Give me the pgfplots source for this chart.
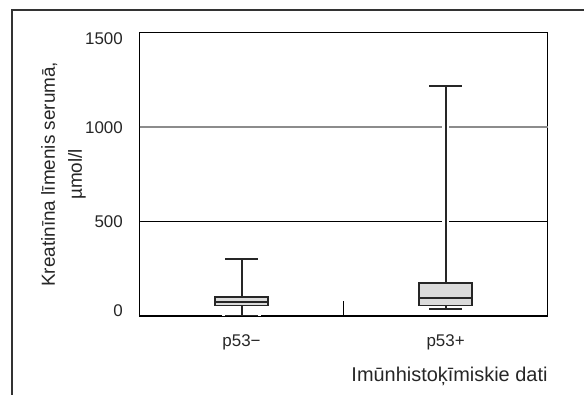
\documentclass[border=0pt]{standalone}
\usepackage{fontspec}
\setmainfont{Liberation Sans}
\usepackage{pgfplots}
\pgfplotsset{compat=1.18}
\begin{document}
\begin{tikzpicture}
\useasboundingbox (0bp,0bp) rectangle (584bp,395bp);
\draw[line width=1.1bp, black!80] (12bp,-2bp) -- (12bp,385bp) -- (586bp,385bp);
\begin{axis}[
  at={(139.5bp,79bp)}, anchor=south west,
  scale only axis, width=408.2bp, height=283.4bp,
  xmin=0, xmax=2, ymin=0, ymax=1500,
  axis line style={black, line width=1bp},
  /pgf/number format/assume math mode=true,
  /pgf/number format/1000 sep={},
  xtick={0.5,1.5}, xticklabels={p53−,p53+},
  ytick={0,500,1500},
  yticklabels={\raisebox{5.5bp}{0},500,\raisebox{-6bp}{1500}},
  extra y ticks={1000}, extra y tick labels={1000},
  extra y tick style={grid=major, major grid style={draw=black!45, line width=2.2bp}},
  ymajorgrids, major grid style={black, line width=0.9bp},
  extra x ticks={1}, extra x tick labels={},
  extra x tick style={major tick length=15bp, tick align=inside, major tick style={black, line width=1.1bp}},
  major tick length=0.01pt,
  tick pos=left,
  ticklabel style={font=\fontsize{17}{20}\selectfont, text=black!85},
  xticklabel style={anchor=base, yshift=-30bp},
  yticklabel style={anchor=base east, inner sep=0pt, xshift=-16.5bp, yshift=-6.1bp},
  xlabel={Imūnhistoķīmiskie dati},
  every axis x label/.style={at={(rel axis cs:1,0)}, anchor=base east, yshift=-65bp, inner sep=0pt, font=\fontsize{20}{24}\selectfont, text=black!85},
  ylabel={Kreatinīna līmenis serumā,\\[6bp]µmol/l},
  every axis y label/.style={at={(rel axis cs:0,0.5)}, xshift=-76bp, rotate=90, anchor=center, align=center, font=\fontsize{19}{21}\selectfont, text=black!85},
]
\addplot[black, line width=2.2bp, no markers] coordinates {(0,0) (2,0)};
% white halos
\addplot[white, line width=7bp, line cap=rect, no markers] coordinates {(0.5,0) (0.5,300)};
\addplot[white, line width=7bp, line cap=rect, no markers] coordinates {(0.42,0) (0.58,0)};
\addplot[white, line width=7bp, line cap=rect, no markers] coordinates {(0.42,300) (0.58,300)};
\addplot[white, line width=7bp, line cap=rect, no markers] coordinates {(1.5,37) (1.5,1215)};
\addplot[white, line width=7bp, line cap=rect, no markers] coordinates {(1.42,37) (1.58,37)};
\addplot[white, line width=7bp, line cap=rect, no markers] coordinates {(1.42,1215) (1.58,1215)};
% p53-
\addplot[black!85, line width=2bp, no markers] coordinates {(0.5,0) (0.5,300)};
\addplot[black!85, line width=2bp, no markers] coordinates {(0.42,0) (0.58,0)};
\addplot[black!85, line width=2bp, no markers] coordinates {(0.42,300) (0.58,300)};
\addplot[draw=black!85, fill=black!14, line width=1.4bp, no markers] coordinates {(0.37,55) (0.63,55) (0.63,100) (0.37,100)} -- cycle;
\addplot[black!85, line width=1.4bp, no markers] coordinates {(0.37,75) (0.63,75)};
% p53+
\addplot[black!85, line width=2bp, no markers] coordinates {(1.5,37) (1.5,1215)};
\addplot[black!85, line width=2bp, no markers] coordinates {(1.42,37) (1.58,37)};
\addplot[black!85, line width=2bp, no markers] coordinates {(1.42,1215) (1.58,1215)};
\addplot[draw=black!85, fill=black!14, line width=1.4bp, no markers] coordinates {(1.37,57) (1.63,57) (1.63,174) (1.37,174)} -- cycle;
\addplot[black!85, line width=1.4bp, no markers] coordinates {(1.37,96) (1.63,96)};
\end{axis}
\end{tikzpicture}
\end{document}
